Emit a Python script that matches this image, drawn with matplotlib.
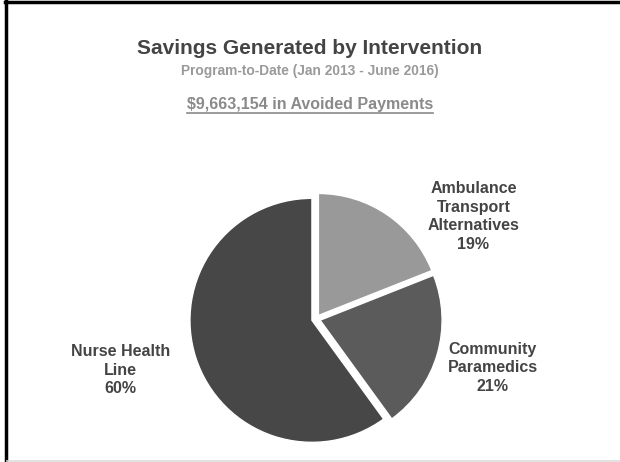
import matplotlib
matplotlib.use("Agg")
import matplotlib.pyplot as plt
from matplotlib.lines import Line2D

plt.rcParams["font.family"] = ["Liberation Sans", "DejaVu Sans"]
plt.rcParams["font.weight"] = "bold"

# savings share per intervention, clockwise from 12 o'clock
categories = ["Ambulance\nTransport\nAlternatives", "Community\nParamedics", "Nurse Health\nLine"]
shares = [19, 21, 60]
colors = ["#999999", "#5b5b5b", "#474747"]

title = "Savings Generated by Intervention"
subtitle = "Program-to-Date (Jan 2013 - June 2016)"
total_text = "$9,663,154 in Avoided Payments"

# where each label sits, in pie units (radius = 1)
label_xy = [(1.29, 0.84), (1.45, -0.40), (-1.6, -0.42)]

W, H = 620, 462
fig = plt.figure(figsize=(W / 100, H / 100), dpi=100)
fig.patch.set_facecolor("white")

# frame lines along the top and the left edge, faint rule at the bottom
fig.add_artist(Line2D([5 / W, 1], [1 - 1.5 / H, 1 - 1.5 / H], color="black", lw=2.5))
fig.add_artist(Line2D([6 / W, 6 / W], [0, 1], color="black", lw=2.5))
fig.add_artist(Line2D([7 / W, 1], [0.7 / H, 0.7 / H], color="#dddddd", lw=1.2))

fig.text(0.5, 1 - 48 / H, title, ha="center", va="center", fontsize=15, color="#444444")
fig.text(0.5, 1 - 71 / H, subtitle, ha="center", va="center", fontsize=9.9, color="#9a9a9a")
t = fig.text(0.5, 1 - 104 / H, total_text, ha="center", va="center", fontsize=11.5, color="#8a8a8a")

# pie centred at (316, 319) px with a 122 px radius
cx, cy, half, r_px = 316, 319, 130, 122
ax = fig.add_axes([(cx - half) / W, (H - cy - half) / H, 2 * half / W, 2 * half / H])
ax.pie(shares, colors=colors, startangle=90, counterclock=False,
       explode=[0.035, 0.035, 0.035],
       wedgeprops=dict(edgecolor="white", linewidth=1.0))
lim = half / r_px
ax.set_xlim(-lim, lim)
ax.set_ylim(-lim, lim)
ax.set_aspect("equal")
ax.axis("off")

for name, pct, (lx, ly) in zip(categories, shares, label_xy):
    ax.text(lx, ly, f"{name}\n{pct}%", ha="center", va="center", fontsize=11.5,
            color="#444444", linespacing=1.3, clip_on=False)

# underline under the total line
fig.canvas.draw()
bb = t.get_window_extent()
fig.add_artist(Line2D([bb.x0 / W, bb.x1 / W], [(bb.y0 - 1) / H, (bb.y0 - 1) / H],
                      color="#8a8a8a", lw=1.2))

fig.savefig("out.png", dpi=100)
